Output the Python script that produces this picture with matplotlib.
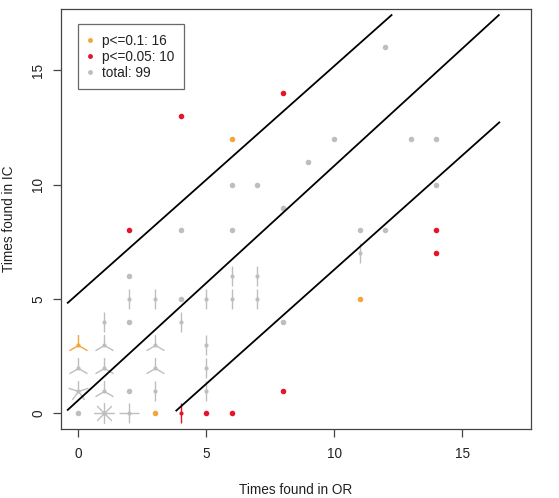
import numpy as np
import matplotlib
matplotlib.use("Agg")
import matplotlib.pyplot as plt
from matplotlib.path import Path
from matplotlib.lines import Line2D

plt.rcParams['font.family'] = ['Liberation Sans', 'DejaVu Sans']

# ---- data: (x = times found in OR, y = times found in IC, n = count at that spot)
grey_x = [0, 2, 2, 2, 4, 8, 12, 10, 13, 14, 9, 7, 14, 8, 11, 12, 6, 4, 6,
          1, 2, 0, 1, 3, 5, 0, 1, 3, 5, 1, 3, 5, 1, 4, 2, 3, 5, 6, 7, 6, 7, 11]
grey_y = [0, 1, 4, 6, 5, 4, 16, 12, 12, 12, 11, 10, 10, 9, 8, 8, 10, 8, 8,
          0, 0, 1, 1, 1, 1, 2, 2, 2, 2, 3, 3, 3, 4, 4, 5, 5, 5, 5, 5, 6, 6, 7]
grey_n = [1, 1, 1, 1, 1, 1, 1, 1, 1, 1, 1, 1, 1, 1, 1, 1, 1, 1, 1,
          8, 4, 5, 3, 2, 2, 3, 3, 3, 2, 3, 3, 2, 2, 2, 2, 2, 2, 2, 2, 2, 2, 2]

orange_x = [0, 3, 6, 11]
orange_y = [3, 0, 12, 5]
orange_n = [3, 1, 1, 1]

red_x = [2, 4, 8, 14, 14, 8, 4, 5, 6]
red_y = [8, 13, 14, 8, 7, 1, 0, 0, 0]
red_n = [1, 1, 1, 1, 1, 1, 2, 1, 1]

# reference lines (start/end points in data units)
lines_x0 = [-0.43, -0.43, 3.81]
lines_y0 = [4.81, 0.13, 0.10]
lines_x1 = [12.27, 16.46, 16.48]
lines_y1 = [17.44, 17.44, 12.75]

legend_labels = ["p<=0.1: 16", "p<=0.05: 10", "total: 99"]

GREY = "#BEBEBE"
ORANGE = "#F4A53A"
RED = "#E8132B"
FS = 9.8

fig = plt.figure(figsize=(5.59, 4.98), dpi=100)
ax = fig.add_axes([60.7 / 559, 1 - 429 / 498, 470 / 559, 420 / 498])
ax.set_xlim(-0.68, 17.68)
ax.set_ylim(-0.68, 17.68)


def petal_marker(n):
    verts, codes = [], []
    for k in range(1, n + 1):
        deg = 2 * np.pi * k / n
        verts += [(0, 0), (np.sin(deg), np.cos(deg))]
        codes += [Path.MOVETO, Path.LINETO]
    return Path(verts, codes)


PETAL_MS = 15.0  # marker size (pt); petal length = PETAL_MS/2


def sunflower(xs, ys, ns, color, z):
    xs, ys, ns = np.asarray(xs), np.asarray(ys), np.asarray(ns)
    single = ns == 1
    ax.plot(xs[single], ys[single], ls='none', marker='o', ms=4.0,
            mfc=color, mec=color, mew=0, zorder=z)
    for n in np.unique(ns[~single]):
        sel = ns == n
        ax.plot(xs[sel], ys[sel], ls='none', marker=petal_marker(int(n)),
                ms=PETAL_MS, mec=color, mew=1.0, mfc='none', zorder=z)
        ax.plot(xs[sel], ys[sel], ls='none', marker='o', ms=3.0,
                mfc=color, mec=color, mew=0, zorder=z)


sunflower(grey_x, grey_y, grey_n, GREY, 2)
sunflower(orange_x, orange_y, orange_n, ORANGE, 3)
sunflower(red_x, red_y, red_n, RED, 4)

for x0, y0, x1, y1 in zip(lines_x0, lines_y0, lines_x1, lines_y1):
    ax.plot([x0, x1], [y0, y1], color='black', lw=1.3, zorder=5,
            solid_capstyle='butt')

ax.set_xticks([0, 5, 10, 15])
ax.set_yticks([0, 5, 10, 15])
ax.tick_params(axis='both', direction='out', length=6, width=0.9,
               color='#444444', labelsize=FS, labelcolor='#222222')
ax.tick_params(axis='x', pad=7)
ax.tick_params(axis='y', pad=5)
for lab in ax.get_yticklabels():
    lab.set_rotation(90)
    lab.set_va('center')
for s in ax.spines.values():
    s.set_color('#444444')
    s.set_linewidth(0.9)

ax.set_xlabel("Times found in OR", fontsize=FS, color='#222222')
ax.set_ylabel("Times found in IC", fontsize=FS, color='#222222')
ax.xaxis.set_label_coords(0.5, -(483 - 429) / 420)
ax.yaxis.set_label_coords(-(60.7 - 16) / 470, 0.5)

handles = [Line2D([], [], ls='none', marker='o', ms=3.5, mfc=c, mec=c, mew=0)
           for c in (ORANGE, RED, GREY)]
leg = ax.legend(handles, legend_labels, loc='upper left',
                bbox_to_anchor=(0.0374, 0.9636), fontsize=FS,
                frameon=True, fancybox=False, edgecolor='#444444',
                handlelength=0.35, handletextpad=0.7, labelspacing=0.14,
                borderpad=0.7, borderaxespad=0)
leg.get_frame().set_linewidth(0.9)
for t in leg.get_texts():
    t.set_color('#222222')

fig.savefig("out.png", dpi=100)
